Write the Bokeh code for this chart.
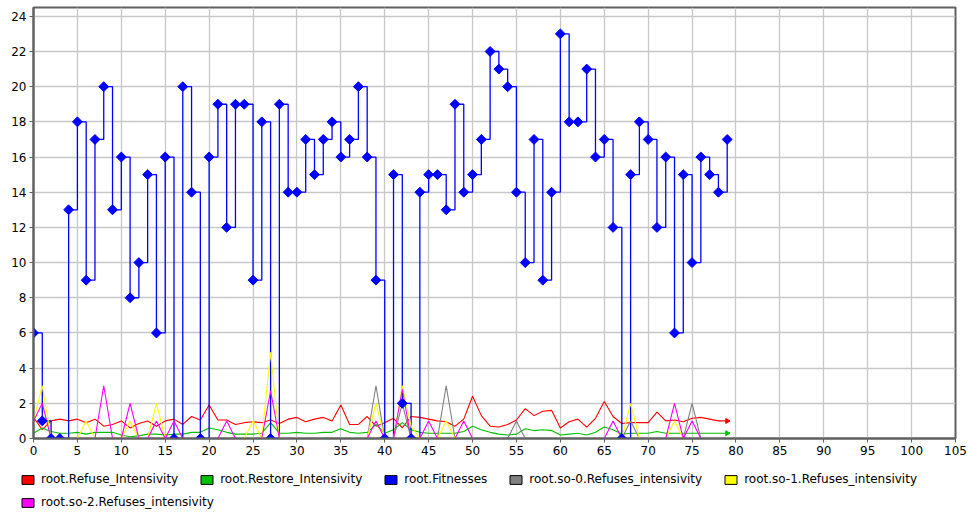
import math
from bokeh.plotting import figure
from bokeh.layouts import column
from bokeh.models import (ColumnDataSource, Legend, LegendItem, FixedTicker, Range1d)
from bokeh.embed import file_html
from bokeh.resources import INLINE

# ---------------- data ----------------
steps = list(range(80))

refuse = [1.2, 0.5, 1.0, 1.1, 1.0, 1.1, 0.9, 1.1, 0.7, 0.8,
          1.0, 0.6, 0.85, 1.0, 0.7, 1.0, 1.1, 0.8, 1.25, 1.05,
          1.9, 1.05, 1.05, 0.8, 0.9, 0.95, 0.9, 1.05, 0.85, 1.1,
          1.2, 0.95, 1.1, 1.2, 1.0, 1.9, 0.8, 0.8, 1.25, 0.7,
          0.9, 1.15, 0.6, 1.25, 1.2, 1.1, 1.0, 0.95, 0.7, 1.1,
          2.4, 1.3, 0.7, 0.65, 0.8, 1.05, 1.7, 1.3, 1.55, 1.6,
          0.6, 0.95, 1.1, 0.65, 1.15, 2.1, 1.25, 0.85, 0.9, 0.9,
          0.9, 1.5, 1.0, 1.05, 0.95, 1.15, 1.2, 1.1, 1.0, 1.0]

restore = [0.3, 0.6, 0.4, 0.3, 0.3, 0.35, 0.25, 0.35, 0.35, 0.35,
           0.2, 0.1, 0.15, 0.25, 0.25, 0.2, 0.25, 0.25, 0.35, 0.35,
           0.6, 0.5, 0.35, 0.25, 0.25, 0.25, 0.3, 0.9, 0.3, 0.3,
           0.35, 0.3, 0.3, 0.35, 0.35, 0.55, 0.35, 0.3, 0.35, 0.8,
           0.3, 0.5, 0.9, 0.5, 0.35, 0.3, 0.3, 0.3, 0.3, 0.4,
           0.7, 0.5, 0.35, 0.25, 0.2, 0.25, 0.55, 0.45, 0.5, 0.45,
           0.2, 0.25, 0.3, 0.2, 0.35, 0.65, 0.5, 0.25, 0.3, 0.3,
           0.3, 0.4, 0.3, 0.3, 0.3, 0.3, 0.3, 0.3, 0.3, 0.3]

fitness = [6, 1, 0, 0, 13, 18, 9, 17, 20, 13,
           16, 8, 10, 15, 6, 16, 0, 20, 14, 0,
           16, 19, 12, 19, 19, 9, 18, 0, 19, 14,
           14, 17, 15, 17, 18, 16, 17, 20, 16, 9,
           0, 15, 2, 0, 14, 15, 15, 13, 19, 14,
           15, 17, 22, 21, 20, 14, 10, 17, 9, 14,
           23, 18, 18, 21, 16, 17, 12, 0, 15, 18,
           17, 12, 16, 6, 15, 10, 16, 15, 14, 17]

so0 = [0, 0, 0, 0, 0, 0, 0, 0, 0, 0,
       0, 0, 0, 0, 0, 0, 0, 0, 0, 0,
       0, 0, 0, 0, 0, 0, 0, 0, 0, 0,
       0, 0, 0, 0, 0, 0, 0, 0, 0, 3,
       0, 0, 2, 0, 0, 0, 0, 3, 0, 0,
       0, 0, 0, 0, 0, 1, 0, 0, 0, 0,
       0, 0, 0, 0, 0, 0, 0, 0, 1, 0,
       0, 0, 0, 0, 0, 2, 0, 0, 0, 0]

so1 = [1, 3, 0, 0, 0, 0, 1, 0, 0, 0,
       0, 1, 0, 0, 2, 0, 0, 0, 0, 0,
       0, 0, 0, 0, 0, 1, 0, 4.9, 0, 0,
       0, 0, 0, 0, 0, 0, 0, 0, 0, 2,
       0, 0, 3, 0.7, 0, 0, 0, 1, 0, 0,
       0, 0, 0, 0, 0, 0, 0, 0, 0, 0,
       0, 0, 0, 0, 0, 0, 0, 0, 2, 0,
       0, 0, 0, 1, 0, 0, 0, 0, 0, 0]

so2 = [1, 2, 0, 0, 0, 0, 0, 0, 3, 0,
       0, 2, 0, 0, 1, 0, 1, 0, 0, 0,
       0, 0, 1, 0, 0, 0, 0, 2.7, 0, 0,
       0, 0, 0, 0, 0, 0, 0, 0, 0, 1,
       0, 0, 2.8, 0, 0, 1, 0, 0, 0, 1,
       0, 0, 0, 0, 0, 0, 0, 0, 0, 0,
       0, 0, 0, 0, 0, 0, 1, 0, 0, 0,
       0, 0, 0, 2, 0, 1, 0, 0, 0, 0]

x_ticks = [0, 5, 10, 15, 20, 25, 30, 35, 40, 45, 50, 55, 60, 65, 70, 75, 80, 85, 90, 95, 100, 105]
y_ticks = [0, 2, 4, 6, 8, 10, 12, 14, 16, 18, 20, 22, 24]

names = ["root.Refuse_Intensivity", "root.Restore_Intensivity", "root.Fitnesses",
         "root.so-0.Refuses_intensivity", "root.so-1.Refuses_intensivity",
         "root.so-2.Refuses_intensivity"]
colors = ["#ff0000", "#00c000", "#0000ff", "#808080", "#ffff00", "#ff00ff"]

FONT = "DejaVu Sans"

# ---------------- main figure ----------------
p = figure(frame_width=922, frame_height=431,
           x_range=Range1d(0, 105), y_range=Range1d(0, 24.5),
           output_backend="svg", toolbar_location=None,
           min_border_left=33, min_border_right=12, min_border_top=7, min_border_bottom=24)
p.background_fill_color = "white"
p.border_fill_color = "white"
p.outline_line_color = "#606060"
p.outline_line_width = 2

for ax in (p.xaxis[0], p.yaxis[0]):
    ax.axis_line_color = "#606060"
    ax.axis_line_width = 2
    ax.major_tick_line_color = "#606060"
    ax.major_tick_out = 4
    ax.major_tick_in = 0
    ax.minor_tick_line_color = None
    ax.major_label_text_font = FONT
    ax.major_label_text_font_size = "12px"
    ax.major_label_text_color = "black"
    ax.major_label_standoff = 3
p.xaxis[0].ticker = FixedTicker(ticks=x_ticks)
p.yaxis[0].ticker = FixedTicker(ticks=y_ticks)

p.xgrid.grid_line_color = "#c8c8c8"
p.ygrid.grid_line_color = "#c8c8c8"
p.xgrid.grid_line_width = 1.3
p.ygrid.grid_line_width = 1.3
p.xgrid.ticker = FixedTicker(ticks=x_ticks)
p.ygrid.ticker = FixedTicker(ticks=y_ticks)

# ---------------- series ----------------
p.line(steps, refuse, line_color=colors[0], line_width=1.1)
p.line(steps, restore, line_color=colors[1], line_width=1.1)
p.step(steps, fitness, mode="after", line_color=colors[2], line_width=1.3)
p.line(steps, so0, line_color=colors[3], line_width=1.1)
p.line(steps, so1, line_color=colors[4], line_width=1.1)
p.line(steps, so2, line_color=colors[5], line_width=1.1)

p.scatter(steps, fitness, marker="square", angle=math.pi / 4, size=7,
          fill_color=colors[2], line_color=colors[2])
p.scatter([steps[-1]], [refuse[-1]], marker="triangle", angle=-math.pi / 2, size=5,
          fill_color=colors[0], line_color=colors[0])
p.scatter([steps[-1]], [restore[-1]], marker="triangle", angle=-math.pi / 2, size=5,
          fill_color=colors[1], line_color=colors[1])

# ---------------- legend strip (separate figure below) ----------------
lg = figure(frame_width=922, height=47, x_range=Range1d(0, 1), y_range=Range1d(0, 1),
            output_backend="svg", toolbar_location=None,
            x_axis_location=None, y_axis_location=None,
            min_border_left=33, min_border_right=12, min_border_top=0, min_border_bottom=0)
lg.outline_line_color = None
lg.grid.visible = False
lg.background_fill_color = "white"
lg.border_fill_color = "white"
lg.styles = {"margin-left": "-31px"}

nan = float("nan")
items = []
for name, c in zip(names, colors):
    src = ColumnDataSource(data=dict(left=[nan], right=[nan], top=[nan], bottom=[nan]))
    r = lg.quad(left="left", right="right", top="top", bottom="bottom", source=src,
                fill_color=c, line_color="black", line_width=1)
    items.append(LegendItem(label=name, renderers=[r]))

def make_legend(its, loc):
    return Legend(items=its, orientation="horizontal", location=loc,
                  glyph_width=15, glyph_height=11, label_standoff=6, spacing=21,
                  padding=4, margin=0, border_line_color=None,
                  background_fill_alpha=0, label_text_font=FONT,
                  label_text_font_size="12px", label_height=14,
                  label_text_color="black")

leg1 = make_legend(items[:5], (18, 23))
leg2 = make_legend(items[5:], (18, 0))
lg.add_layout(leg1, "center")
lg.add_layout(leg2, "center")

layout = column(p, lg, spacing=0)
open("out.html", "w").write(file_html(layout, INLINE))
